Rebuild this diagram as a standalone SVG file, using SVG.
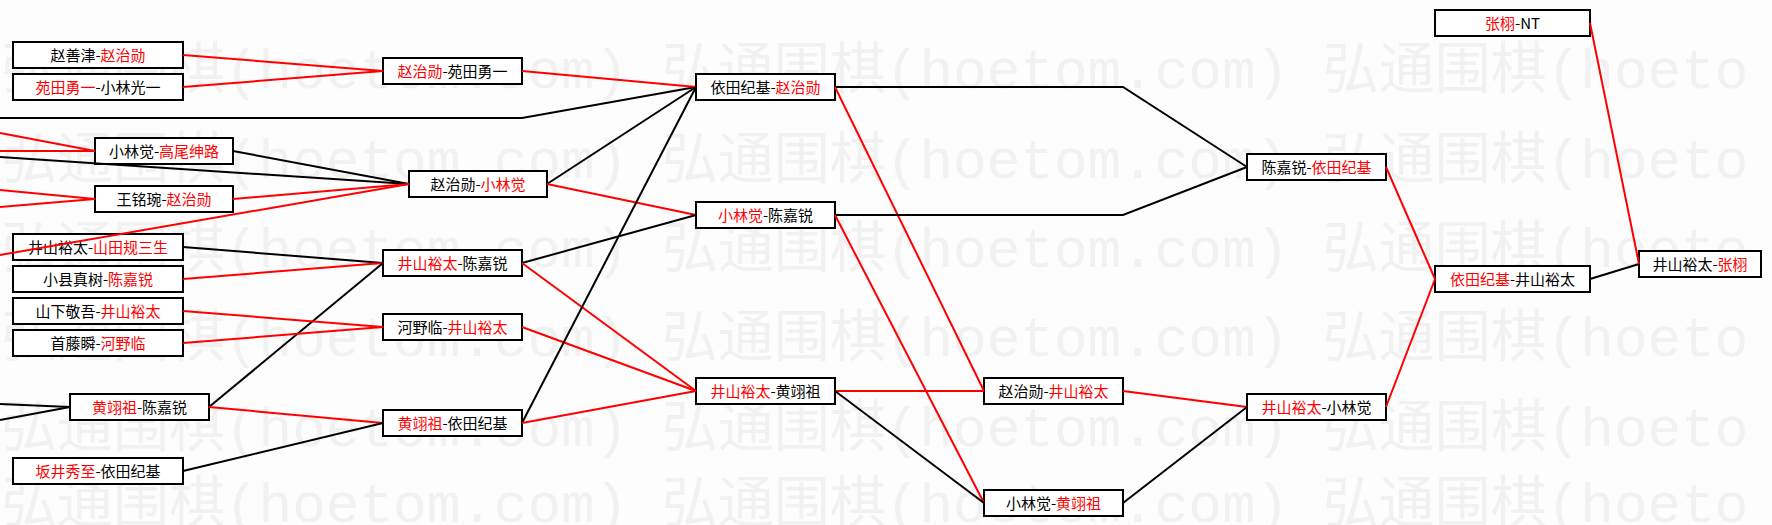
<svg xmlns="http://www.w3.org/2000/svg" width="1772" height="525" viewBox="0 0 1772 525">
<style>
.bg{fill:#FDFDFD}
.wm{font-family:"Liberation Mono","Noto Sans CJK SC",monospace;font-size:56px;fill:#F1F1F1}
.box{fill:#FFFFFF;stroke:#000;stroke-width:2}
.t{font-family:"Noto Sans CJK SC","Noto Sans",sans-serif;font-size:15px;fill:#000;text-anchor:middle}
.r{fill:#F00}
.k{stroke:#000;stroke-width:2;fill:none}
.d{stroke:#F00;stroke-width:2;fill:none}
</style>
<rect class="bg" x="0" y="0" width="1772" height="525"/>
<g id="watermark">
<text class="wm" x="1" y="88">弘通围棋(hoetom.com) 弘通围棋(hoetom.com) 弘通围棋(hoeto</text>
<text class="wm" x="1" y="178">弘通围棋(hoetom.com) 弘通围棋(hoetom.com) 弘通围棋(hoeto</text>
<text class="wm" x="1" y="267">弘通围棋(hoetom.com) 弘通围棋(hoetom.com) 弘通围棋(hoeto</text>
<text class="wm" x="1" y="356">弘通围棋(hoetom.com) 弘通围棋(hoetom.com) 弘通围棋(hoeto</text>
<text class="wm" x="1" y="446">弘通围棋(hoetom.com) 弘通围棋(hoetom.com) 弘通围棋(hoeto</text>
<text class="wm" x="1" y="522">弘通围棋(hoetom.com) 弘通围棋(hoetom.com) 弘通围棋(hoeto</text>
</g>
<g id="nodes">
<g id="n1"><rect class="box" x="13" y="42" width="170" height="26"/><text class="t" x="98" y="60.5">赵善津-<tspan class="r">赵治勋</tspan></text></g>
<g id="n2"><rect class="box" x="13" y="74" width="170" height="26"/><text class="t" x="98" y="92.5"><tspan class="r">苑田勇一</tspan>-小林光一</text></g>
<g id="n3"><rect class="box" x="95" y="138" width="138" height="26"/><text class="t" x="164" y="156.5">小林觉-<tspan class="r">高尾绅路</tspan></text></g>
<g id="n4"><rect class="box" x="95" y="186" width="138" height="26"/><text class="t" x="164" y="204.5">王铭琬-<tspan class="r">赵治勋</tspan></text></g>
<g id="n5"><rect class="box" x="13" y="234" width="170" height="26"/><text class="t" x="98" y="252.5">井山裕太-<tspan class="r">山田规三生</tspan></text></g>
<g id="n6"><rect class="box" x="13" y="266" width="170" height="26"/><text class="t" x="98" y="284.5">小县真树-<tspan class="r">陈嘉锐</tspan></text></g>
<g id="n7"><rect class="box" x="13" y="298" width="170" height="26"/><text class="t" x="98" y="316.5">山下敬吾-<tspan class="r">井山裕太</tspan></text></g>
<g id="n8"><rect class="box" x="13" y="330" width="170" height="26"/><text class="t" x="98" y="348.5">首藤瞬-<tspan class="r">河野临</tspan></text></g>
<g id="n9"><rect class="box" x="70" y="394" width="139" height="26"/><text class="t" x="139.5" y="412.5"><tspan class="r">黄翊祖</tspan>-陈嘉锐</text></g>
<g id="n10"><rect class="box" x="13" y="458" width="170" height="26"/><text class="t" x="98" y="476.5"><tspan class="r">坂井秀至</tspan>-依田纪基</text></g>
<g id="n11"><rect class="box" x="383" y="58" width="139" height="26"/><text class="t" x="452.5" y="76.5"><tspan class="r">赵治勋</tspan>-苑田勇一</text></g>
<g id="n12"><rect class="box" x="409" y="171" width="138" height="26"/><text class="t" x="478" y="189.5">赵治勋-<tspan class="r">小林觉</tspan></text></g>
<g id="n13"><rect class="box" x="383" y="250" width="139" height="26"/><text class="t" x="452.5" y="268.5"><tspan class="r">井山裕太</tspan>-陈嘉锐</text></g>
<g id="n14"><rect class="box" x="383" y="314" width="139" height="26"/><text class="t" x="452.5" y="332.5">河野临-<tspan class="r">井山裕太</tspan></text></g>
<g id="n15"><rect class="box" x="383" y="410" width="139" height="26"/><text class="t" x="452.5" y="428.5"><tspan class="r">黄翊祖</tspan>-依田纪基</text></g>
<g id="n16"><rect class="box" x="696" y="74" width="139" height="26"/><text class="t" x="765.5" y="92.5">依田纪基-<tspan class="r">赵治勋</tspan></text></g>
<g id="n17"><rect class="box" x="696" y="202" width="139" height="26"/><text class="t" x="765.5" y="220.5"><tspan class="r">小林觉</tspan>-陈嘉锐</text></g>
<g id="n18"><rect class="box" x="696" y="378" width="139" height="26"/><text class="t" x="765.5" y="396.5"><tspan class="r">井山裕太</tspan>-黄翊祖</text></g>
<g id="n19"><rect class="box" x="984" y="378" width="139" height="26"/><text class="t" x="1053.5" y="396.5">赵治勋-<tspan class="r">井山裕太</tspan></text></g>
<g id="n20"><rect class="box" x="984" y="490" width="139" height="26"/><text class="t" x="1053.5" y="508.5">小林觉-<tspan class="r">黄翊祖</tspan></text></g>
<g id="n21"><rect class="box" x="1247" y="154" width="139" height="26"/><text class="t" x="1316.5" y="172.5">陈嘉锐-<tspan class="r">依田纪基</tspan></text></g>
<g id="n22"><rect class="box" x="1247" y="394" width="139" height="26"/><text class="t" x="1316.5" y="412.5"><tspan class="r">井山裕太</tspan>-小林觉</text></g>
<g id="n23"><rect class="box" x="1435" y="266" width="155" height="26"/><text class="t" x="1512.5" y="284.5"><tspan class="r">依田纪基</tspan>-井山裕太</text></g>
<g id="n24"><rect class="box" x="1435" y="10" width="155" height="26"/><text class="t" x="1512.5" y="28.5"><tspan class="r">张栩</tspan>-NT</text></g>
<g id="n25"><rect class="box" x="1639" y="251" width="122" height="26"/><text class="t" x="1700" y="269.5">井山裕太-<tspan class="r">张栩</tspan></text></g>
</g>
<g id="connectors">
<line class="d" x1="183" y1="55" x2="383" y2="71"/>
<line class="d" x1="183" y1="87" x2="383" y2="71"/>
<polyline class="k" points="0,118 522,118 696,87"/>
<line class="d" x1="0" y1="133" x2="95" y2="151"/>
<line class="d" x1="0" y1="151" x2="95" y2="151"/>
<line class="k" x1="0" y1="157" x2="409" y2="184"/>
<line class="k" x1="233" y1="151" x2="409" y2="184"/>
<line class="d" x1="0" y1="190" x2="95" y2="199"/>
<line class="d" x1="0" y1="207" x2="95" y2="199"/>
<line class="d" x1="233" y1="199" x2="409" y2="184"/>
<line class="d" x1="0" y1="255" x2="409" y2="184"/>
<line class="k" x1="183" y1="247" x2="383" y2="263"/>
<line class="d" x1="183" y1="279" x2="383" y2="263"/>
<line class="k" x1="209" y1="407" x2="383" y2="263"/>
<line class="k" x1="0" y1="404" x2="70" y2="407"/>
<line class="k" x1="0" y1="420" x2="70" y2="407"/>
<line class="d" x1="183" y1="311" x2="383" y2="327"/>
<line class="d" x1="183" y1="343" x2="383" y2="327"/>
<line class="d" x1="209" y1="407" x2="383" y2="423"/>
<line class="k" x1="183" y1="471" x2="383" y2="423"/>
<line class="d" x1="522" y1="71" x2="696" y2="87"/>
<line class="k" x1="547" y1="184" x2="696" y2="87"/>
<line class="d" x1="547" y1="184" x2="696" y2="215"/>
<line class="k" x1="522" y1="263" x2="696" y2="215"/>
<line class="d" x1="522" y1="263" x2="696" y2="391"/>
<line class="d" x1="522" y1="327" x2="696" y2="391"/>
<line class="k" x1="522" y1="423" x2="696" y2="87"/>
<line class="d" x1="522" y1="423" x2="696" y2="391"/>
<polyline class="k" points="835,87 1123,87 1247,167"/>
<line class="d" x1="835" y1="87" x2="984" y2="391"/>
<polyline class="k" points="835,215 1123,215 1247,167"/>
<line class="d" x1="835" y1="215" x2="984" y2="503"/>
<line class="d" x1="835" y1="391" x2="984" y2="391"/>
<line class="k" x1="835" y1="391" x2="984" y2="503"/>
<line class="d" x1="1123" y1="391" x2="1247" y2="407"/>
<line class="k" x1="1123" y1="503" x2="1247" y2="407"/>
<line class="d" x1="1386" y1="167" x2="1435" y2="279"/>
<line class="d" x1="1386" y1="407" x2="1435" y2="279"/>
<line class="k" x1="1590" y1="279" x2="1639" y2="264"/>
<line class="d" x1="1590" y1="23" x2="1639" y2="264"/>
</g>
</svg>
